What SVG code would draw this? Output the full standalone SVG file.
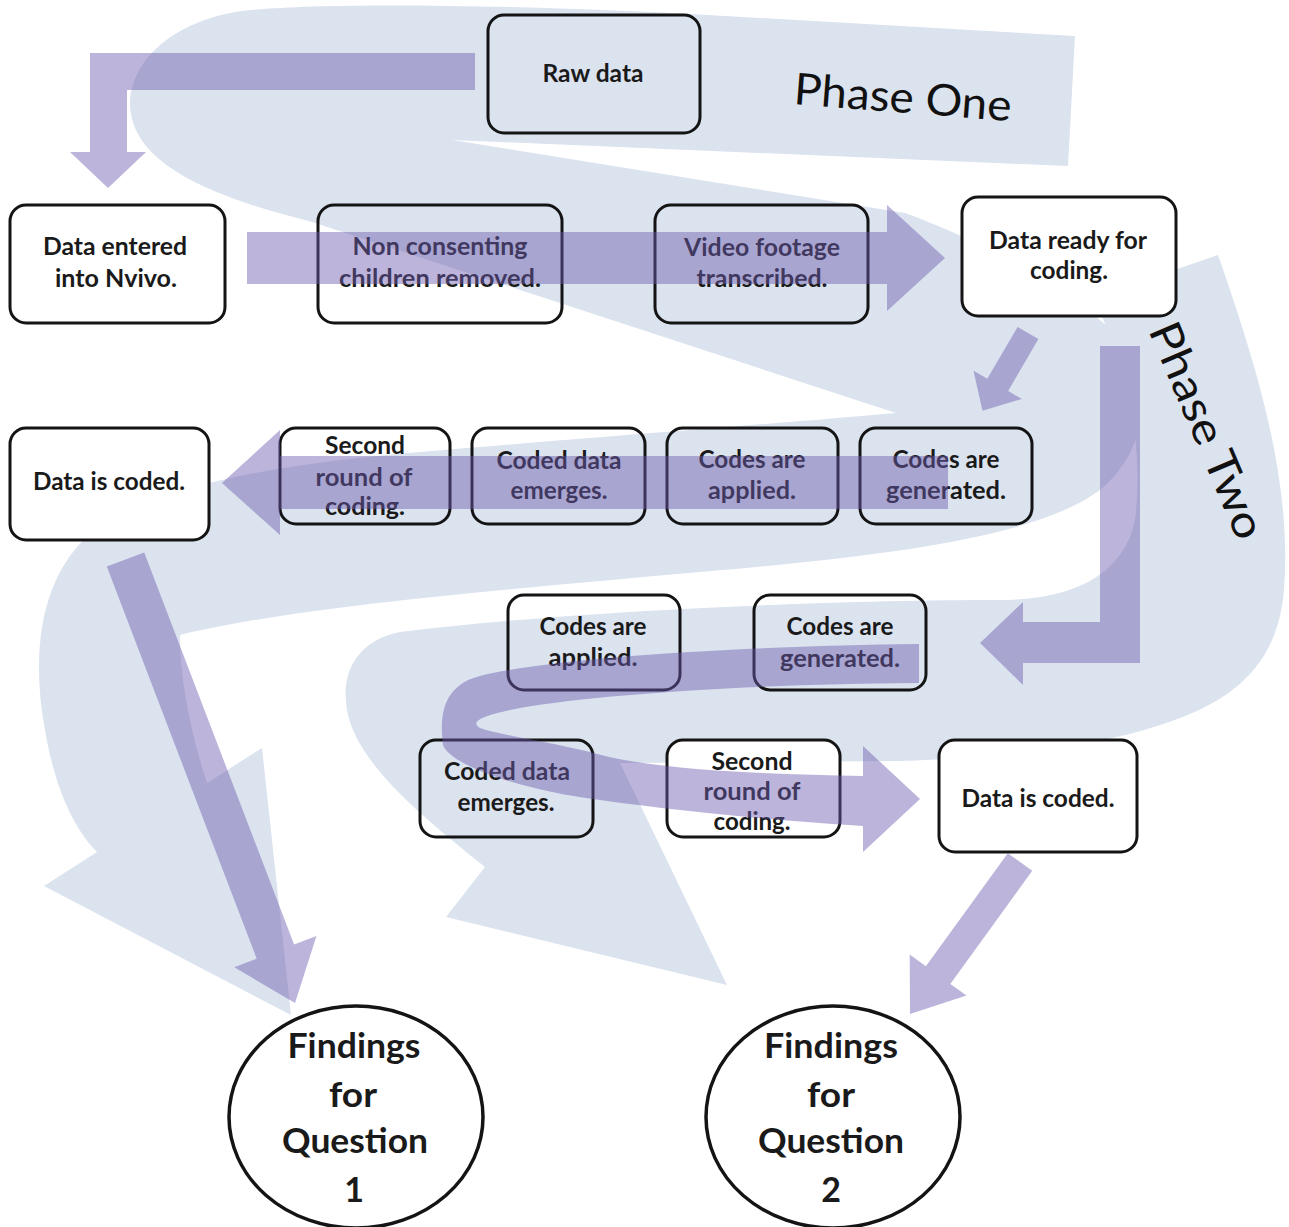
<svg xmlns="http://www.w3.org/2000/svg" width="1289" height="1227" viewBox="0 0 1289 1227">
<style>
.bg{fill:#dbe3ef}
.arr{fill:#6c5cae;fill-opacity:0.46}
.box{fill:none;stroke:#141414;stroke-width:3}
.wbox{fill:#fff;stroke:#141414;stroke-width:3}
.t{font-family:Lato,"Open Sans",sans-serif;font-weight:700;font-size:24px;fill:#1a1a1a;text-anchor:middle}
.big{font-size:34px}
.phase{font-family:Lato,"Open Sans",sans-serif;font-weight:400;font-size:44px;fill:#111}
</style>
<rect width="1289" height="1227" fill="#fff"/>
<g id="background">
<path class="bg" d="M1075,36 L690,14 C500,4 300,2 235,12 C170,24 130,62 130,105 C132,150 175,188 312,222 L896,413 C760,425 560,440 420,452 C300,462 180,480 110,520 C40,560 30,650 45,730 C55,790 75,830 97,852 L44,886 L291,1015 L262,748 L207,783 C190,730 180,680 180,635 C300,606 500,590 700,572 C900,555 1040,535 1100,490 C1160,440 1150,360 1100,320 C1060,285 980,240 905,213 L452,140 L1068,166 Z"/>
<path class="bg" d="M1093,298 L1218,255 C1258,370 1292,480 1284,590 C1278,660 1240,700 1160,725 C1090,748 1000,758 900,761 L620,763 L727,985 L446,917 L485,867 C420,815 360,765 348,715 C338,670 360,640 400,632 C560,612 820,600 1000,600 C1080,600 1125,570 1135,520 C1145,440 1125,360 1093,298 Z"/>
<text class="phase" x="793" y="104" transform="rotate(4.5 793 104)" textLength="218" lengthAdjust="spacingAndGlyphs">Phase One</text>
<text class="phase" x="1148" y="330" transform="rotate(67 1148 330)" textLength="231" lengthAdjust="spacingAndGlyphs">Phase Two</text>
</g>
<g id="nodes">
<g id="raw-data"><rect class="box" x="488" y="15" width="212" height="118" rx="16"/><text class="t" x="593" y="82" textLength="101" lengthAdjust="spacingAndGlyphs">Raw data</text></g>
<g id="data-entered"><rect class="wbox" x="10" y="205" width="215" height="118" rx="16"/><text class="t" x="115" y="255" textLength="144" lengthAdjust="spacingAndGlyphs">Data entered</text><text class="t" x="116" y="287" textLength="122" lengthAdjust="spacingAndGlyphs">into Nvivo.</text></g>
<g id="non-consenting"><rect class="box" x="318" y="205" width="244" height="118" rx="16"/><text class="t" x="440" y="255" textLength="175" lengthAdjust="spacingAndGlyphs">Non consenting</text><text class="t" x="440" y="287" textLength="202" lengthAdjust="spacingAndGlyphs">children removed.</text></g>
<g id="video-footage"><rect class="box" x="655" y="205" width="213" height="118" rx="16"/><text class="t" x="762" y="256" textLength="156" lengthAdjust="spacingAndGlyphs">Video footage</text><text class="t" x="762" y="287" textLength="131" lengthAdjust="spacingAndGlyphs">transcribed.</text></g>
<g id="data-ready"><rect class="wbox" x="962" y="197" width="214" height="119" rx="16"/><text class="t" x="1068" y="249" textLength="158" lengthAdjust="spacingAndGlyphs">Data ready for</text><text class="t" x="1069" y="279" textLength="78" lengthAdjust="spacingAndGlyphs">coding.</text></g>
<g id="data-coded-1"><rect class="wbox" x="10" y="428" width="199" height="112" rx="16"/><text class="t" x="109" y="490" textLength="152" lengthAdjust="spacingAndGlyphs">Data is coded.</text></g>
<g id="second-round-1"><rect class="box" x="280" y="428" width="170" height="96" rx="16"/><text class="t" x="365" y="454" textLength="80" lengthAdjust="spacingAndGlyphs">Second</text><text class="t" x="364" y="486" textLength="97" lengthAdjust="spacingAndGlyphs">round of</text><text class="t" x="365" y="515" textLength="80" lengthAdjust="spacingAndGlyphs">coding.</text></g>
<g id="coded-data-1"><rect class="box" x="472" y="428" width="173" height="96" rx="16"/><text class="t" x="559" y="469" textLength="125" lengthAdjust="spacingAndGlyphs">Coded data</text><text class="t" x="559" y="499" textLength="97" lengthAdjust="spacingAndGlyphs">emerges.</text></g>
<g id="codes-applied-1"><rect class="box" x="667" y="428" width="171" height="96" rx="16"/><text class="t" x="752" y="468" textLength="107" lengthAdjust="spacingAndGlyphs">Codes are</text><text class="t" x="752" y="499" textLength="88" lengthAdjust="spacingAndGlyphs">applied.</text></g>
<g id="codes-generated-1"><rect class="box" x="860" y="428" width="172" height="96" rx="16"/><text class="t" x="946" y="468" textLength="107" lengthAdjust="spacingAndGlyphs">Codes are</text><text class="t" x="946" y="499" textLength="120" lengthAdjust="spacingAndGlyphs">generated.</text></g>
<g id="codes-applied-2"><rect class="box" x="508" y="595" width="172" height="95" rx="16"/><text class="t" x="593" y="635" textLength="107" lengthAdjust="spacingAndGlyphs">Codes are</text><text class="t" x="593" y="666" textLength="89" lengthAdjust="spacingAndGlyphs">applied.</text></g>
<g id="codes-generated-2"><rect class="box" x="754" y="595" width="172" height="95" rx="16"/><text class="t" x="840" y="635" textLength="107" lengthAdjust="spacingAndGlyphs">Codes are</text><text class="t" x="840" y="667" textLength="120" lengthAdjust="spacingAndGlyphs">generated.</text></g>
<g id="coded-data-2"><rect class="box" x="420" y="740" width="173" height="97" rx="16"/><text class="t" x="507" y="780" textLength="126" lengthAdjust="spacingAndGlyphs">Coded data</text><text class="t" x="506" y="811" textLength="97" lengthAdjust="spacingAndGlyphs">emerges.</text></g>
<g id="second-round-2"><rect class="wbox" x="667" y="740" width="173" height="97" rx="16"/><text class="t" x="752" y="770" textLength="81" lengthAdjust="spacingAndGlyphs">Second</text><text class="t" x="752" y="800" textLength="97" lengthAdjust="spacingAndGlyphs">round of</text><text class="t" x="752" y="830" textLength="77" lengthAdjust="spacingAndGlyphs">coding.</text></g>
<g id="data-coded-2"><rect class="wbox" x="939" y="740" width="198" height="112" rx="16"/><text class="t" x="1038" y="807" textLength="153" lengthAdjust="spacingAndGlyphs">Data is coded.</text></g>
<g id="findings-1"><ellipse cx="356" cy="1117" rx="127" ry="111" fill="#fff" stroke="#141414" stroke-width="3.5"/><text class="t big" x="354" y="1058" textLength="133" lengthAdjust="spacingAndGlyphs">Findings</text><text class="t big" x="353" y="1107" textLength="48" lengthAdjust="spacingAndGlyphs">for</text><text class="t big" x="355" y="1153" textLength="146" lengthAdjust="spacingAndGlyphs">Question</text><text class="t big" x="354" y="1202">1</text></g>
<g id="findings-2"><ellipse cx="833" cy="1117" rx="127" ry="111" fill="#fff" stroke="#141414" stroke-width="3.5"/><text class="t big" x="831" y="1058" textLength="134" lengthAdjust="spacingAndGlyphs">Findings</text><text class="t big" x="831" y="1107" textLength="48" lengthAdjust="spacingAndGlyphs">for</text><text class="t big" x="831" y="1153" textLength="146" lengthAdjust="spacingAndGlyphs">Question</text><text class="t big" x="831" y="1202">2</text></g>
</g>
<g id="connectors">
<polygon class="arr" points="475,53 475,90 127,90 127,152 146,152 108,188 70,152 90,152 90,53"/>
<polygon class="arr" points="247,232 887,232 887,205 945,258 887,311 887,284 247,284"/>
<polygon class="arr" points="1017.6,326.9 1038.4,339.1 1008.1,390.9 1021.9,398.9 982.5,410.7 973.5,370.7 987.3,378.7"/>
<polygon class="arr" points="1100,346 1140,346 1140,663 1023,663 1023,685 980,643 1023,602 1023,622 1100,622"/>
<polygon class="arr" points="948,456 948,509 280,509 280,535 222,483 280,430 280,456"/>
<polygon class="arr" points="106.8,566.6 144.2,552.4 294.1,944.5 316.5,935.9 295,1003 234.3,967.3 256.7,958.7"/>
<path class="arr" d="M919,644 C760,646 560,656 480,676 C440,686 440,720 443,745 C450,765 520,790 600,800 C700,814 800,822 863,826 L863,852 L920,799 L863,746 L863,776 C760,774 650,770 590,752 C540,740 500,735 480,728 C470,722 480,716 520,708 C600,694 760,684 919,683 Z"/>
<polygon class="arr" points="1007.8,853.2 1032.2,870.8 950.3,983.9 966.5,995.6 910,1014 909.7,954.6 925.9,966.3"/>
</g>
</svg>
